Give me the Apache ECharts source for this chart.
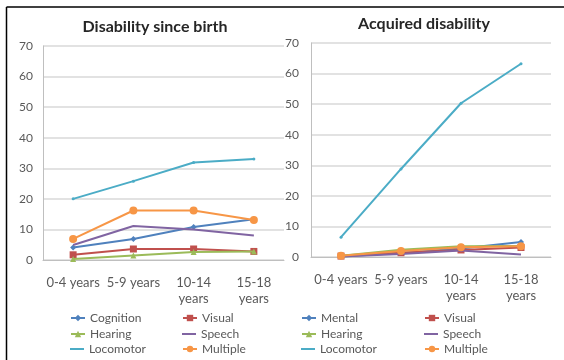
<!DOCTYPE html>
<html>
<head>
<meta charset="utf-8">
<script src="https://cdn.jsdelivr.net/npm/echarts@6/dist/echarts.min.js"></script>
<style>
html,body{margin:0;padding:0;background:#fff;}
#c{width:564px;height:360px;}
</style>
</head>
<body>
<div id="c"></div>
<script>
const categories = ['0-4 years', '5-9 years', '10-14 years', '15-18 years'];
const yTicks = [0, 10, 20, 30, 40, 50, 60, 70];

const leftTitle = 'Disability since birth';
const rightTitle = 'Acquired disability';

const leftNames = ['Cognition', 'Visual', 'Hearing', 'Speech', 'Locomotor', 'Multiple'];
const rightNames = ['Mental', 'Visual', 'Hearing', 'Speech', 'Locomotor', 'Multiple'];

const birthCognition = [4.1, 6.9, 10.8, 13.3];
const birthVisual = [1.7, 3.6, 3.6, 2.8];
const birthHearing = [0.3, 1.5, 2.6, 2.8];
const birthSpeech = [4.9, 11.1, 10.0, 8.0];
const birthLocomotor = [20.0, 25.8, 31.9, 33.0];
const birthMultiple = [6.9, 16.2, 16.2, 13.1];

const acqMental = [0.2, 1.3, 2.8, 4.9];
const acqVisual = [0.3, 1.4, 2.3, 3.1];
const acqHearing = [0.4, 2.4, 3.5, 3.6];
const acqSpeech = [0.2, 1.0, 2.1, 0.8];
const acqLocomotor = [6.5, 28.8, 50.3, 63.2];
const acqMultiple = [0.4, 2.0, 3.2, 3.5];

const colors = ['#4F81BD', '#C0504D', '#9BBB59', '#8064A2', '#4BACC6', '#F79646'];
const symbols = ['diamond', 'rect', 'triangle', 'none', 'circle', 'circle'];
const symbolSizes = [6, 7, 6, 0, 3, 8];
const lineOnlyLegend = [false, false, false, true, true, false];

const birthData = [birthCognition, birthVisual, birthHearing, birthSpeech, birthLocomotor, birthMultiple];
const acqData = [acqMental, acqVisual, acqHearing, acqSpeech, acqLocomotor, acqMultiple];

const FONT = 'Lato';
const textGrey = '#595959';

function mkSeries(names, data, idx) {
  return names.map((n, i) => ({
    name: n,
    type: 'line',
    xAxisIndex: idx,
    yAxisIndex: idx,
    data: data[i],
    symbol: symbols[i],
    symbolSize: symbolSizes[i],
    showSymbol: symbols[i] !== 'none',
    color: colors[i],
    lineStyle: { width: 2, color: colors[i] },
    itemStyle: { color: colors[i] },
    emphasis: { disabled: true },
    animation: false,
    z: 2 + i
  }));
}

function xAx(idx) {
  return {
    type: 'category', gridIndex: idx, data: categories,
    axisLine: { show: true, lineStyle: { color: '#BFBFBF', width: 1 } },
    axisTick: { show: false },
    axisLabel: {
      interval: 0, margin: 15, fontFamily: FONT, fontSize: 13, color: textGrey, lineHeight: 16,
      formatter: v => v.length > 9 ? v.replace(' ', '\n') : v
    }
  };
}
function yAx(idx, margin) {
  return {
    type: 'value', gridIndex: idx, min: yTicks[0], max: yTicks[yTicks.length - 1], interval: 10,
    axisLine: { show: true, lineStyle: { color: '#BFBFBF', width: 1 } },
    axisTick: { show: false },
    splitLine: { show: true, lineStyle: { color: '#D9D9D9', width: 1.5 } },
    axisLabel: { margin: margin, fontFamily: FONT, fontSize: 12, color: textGrey }
  };
}

const rowCenters = [317, 333, 348];
function legendItems(names, colLefts) {
  return names.map((n, i) => {
    const col = i % 2, row = Math.floor(i / 2);
    const lineOnly = lineOnlyLegend[i];
    const lg = {
      orient: 'horizontal', left: colLefts[col], top: rowCenters[row] - 11,
      data: [lineOnly ? { name: n, icon: 'rect' } : n], selectedMode: false,
      itemWidth: 14, itemHeight: lineOnly ? 2 : 8, itemGap: 0,
      textStyle: { fontFamily: FONT, fontSize: 12, color: textGrey, lineHeight: 14 }
    };
    if (lineOnly) lg.itemStyle = { color: colors[i] };
    return lg;
  });
}

const chart = echarts.init(document.getElementById('c'), null, { renderer: 'canvas' });
chart.setOption({
  backgroundColor: '#fff',
  animation: false,
  title: [
    { text: leftTitle, left: 150, top: 14, textAlign: 'center',
      textStyle: { fontFamily: FONT, fontSize: 16, fontWeight: 'bold', color: '#262626' } },
    { text: rightTitle, left: 419, top: 11, textAlign: 'center',
      textStyle: { fontFamily: FONT, fontSize: 16, fontWeight: 'bold', color: '#262626' } }
  ],
  grid: [
    { left: 43, top: 46, width: 241, height: 214 },
    { left: 311, top: 43, width: 240, height: 214 }
  ],
  xAxis: [xAx(0), xAx(1)],
  yAxis: [yAx(0, 10), yAx(1, 12)],
  legend: legendItems(leftNames, [65, 177]).concat(legendItems(rightNames, [296, 419])),
  graphic: [
    { type: 'line', shape: { x1: 6.5, y1: 7, x2: 564, y2: 7 }, style: { stroke: '#000', lineWidth: 1.5 }, silent: true },
    { type: 'line', shape: { x1: 6.5, y1: 7, x2: 6.5, y2: 360 }, style: { stroke: '#000', lineWidth: 1.5 }, silent: true }
  ],
  series: mkSeries(leftNames, birthData, 0).concat(mkSeries(rightNames, acqData, 1))
});
</script>
</body>
</html>
